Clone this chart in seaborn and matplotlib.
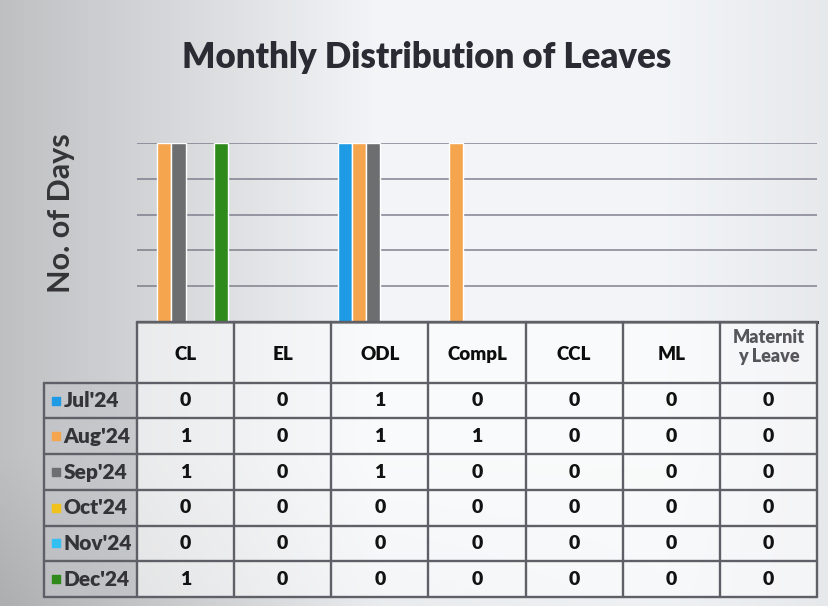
import numpy as np
import pandas as pd
import matplotlib
matplotlib.use("Agg")
import matplotlib.pyplot as plt
import seaborn as sns

# Leave types (columns) and months (series)
leave_types = ["CL", "EL", "ODL", "CompL", "CCL", "ML", "Maternity Leave"]
header_labels = ["CL", "EL", "ODL", "CompL", "CCL", "ML", "Maternit\ny Leave"]
months = ["Jul'24", "Aug'24", "Sep'24", "Oct'24", "Nov'24", "Dec'24"]

jul = [0, 0, 1, 0, 0, 0, 0]
aug = [1, 0, 1, 1, 0, 0, 0]
sep = [1, 0, 1, 0, 0, 0, 0]
oct_ = [0, 0, 0, 0, 0, 0, 0]
nov = [0, 0, 0, 0, 0, 0, 0]
dec = [1, 0, 0, 0, 0, 0, 0]

month_colors = ["#1f9be6", "#f4a54e", "#6d6e70", "#f1c21b", "#34bff2", "#2f8a1c"]

series = [jul, aug, sep, oct_, nov, dec]
df = pd.DataFrame(
    [(lt, m, v) for m, vals in zip(months, series) for lt, v in zip(leave_types, vals)],
    columns=["leave", "month", "days"],
)

sns.set_theme(style="white")
plt.rcParams["font.family"] = ["Lato", "DejaVu Sans"]

W, H = 829, 606
fig = plt.figure(figsize=(W / 100, H / 100), dpi=100)

# soft paper-like background: grey at the left edge, brighter towards the centre/right
bg = fig.add_axes([0, 0, 1, 1], zorder=-10)
xx, yy = np.meshgrid(np.linspace(0, 1, 200), np.linspace(0, 1, 150))
shade = 0.76 + 0.21 * np.clip(xx * 2.2, 0, 1) - 0.06 * np.clip((xx - 0.8) * 4, 0, 1) \
    - 0.07 * np.clip((yy - 0.75) * 4, 0, 1) * (1 - xx)
bg.imshow(np.dstack([shade * 0.98, shade * 0.99, shade]).clip(0, 1),
          aspect="auto", extent=[0, 1, 0, 1], interpolation="bicubic")
bg.set_axis_off()

def fx(px):
    return px / W

def fy(py):
    return 1 - py / H

left_px, right_px = 137, 817
top_px, base_px = 143, 322
table_bottom_px = 597

# bar chart
ax = fig.add_axes([fx(left_px), fy(base_px), fx(right_px) - fx(left_px), (base_px - top_px) / H])
sns.barplot(data=df, x="leave", y="days", hue="month", hue_order=months,
            palette=month_colors, width=0.87, saturation=1, ax=ax, legend=False)
ax.set_xlim(-0.5, len(leave_types) - 0.5)
ax.set_ylim(0, 1)
ax.set_yticks(np.arange(0, 1.01, 0.2))
ax.yaxis.grid(True, color="#6f7180", lw=1.2, alpha=0.8)
ax.set_axisbelow(True)
ax.set_facecolor("none")
for s in ["top", "right", "left"]:
    ax.spines[s].set_visible(False)
ax.spines["bottom"].set_color("#3c3c3c")
ax.spines["bottom"].set_linewidth(2.2)
ax.set_xticks([])
ax.set_yticklabels([])
ax.tick_params(left=False, bottom=False)
ax.set_xlabel("")
ax.set_ylabel("")

# y-axis title
fig.text(fx(61), fy(213), "No. of Days", rotation=90, ha="center", va="center",
         fontsize=22, fontweight="bold", color="#353538")

# chart title
fig.text(fx(427), fy(58), "Monthly Distribution of Leaves", ha="center", va="center",
         fontsize=25, fontweight="heavy", color="#2b2b33")

# data table under the bars
header_h = 1.7
n_rows = len(months)
tab = fig.add_axes([fx(left_px), fy(table_bottom_px), fx(right_px) - fx(left_px),
                    (table_bottom_px - base_px) / H])
tab.set_xlim(-0.5, len(leave_types) - 0.5)
tab.set_ylim(header_h + n_rows, 0)
tab.set_axis_off()
label_left = -0.5 - (left_px - 44) / ((right_px - left_px) / len(leave_types))
line_kw = dict(color="#5f5f68", lw=1.7, clip_on=False)

# label column shading
tab.fill_between([label_left, -0.5], header_h, header_h + n_rows, color="#c2c3c7",
                 alpha=0.6, clip_on=False, lw=0)
tab.fill_between([-0.5, len(leave_types) - 0.5], 0, header_h + n_rows, color="white",
                 alpha=0.55, lw=0)

# vertical lines
for i in range(len(leave_types) + 1):
    tab.plot([i - 0.5, i - 0.5], [0, header_h + n_rows], **line_kw)
tab.plot([label_left, label_left], [header_h, header_h + n_rows], **line_kw)
# horizontal lines
tab.plot([-0.5, len(leave_types) - 0.5], [0, 0], **line_kw)
for r in range(n_rows + 1):
    tab.plot([label_left, len(leave_types) - 0.5], [header_h + r, header_h + r], **line_kw)

for i, lab in enumerate(header_labels):
    small = "\n" in lab
    tab.text(i, header_h / 2 + (0.05 if not small else -0.15), lab, ha="center", va="center",
             fontsize=13 if small else 13.5, fontweight="heavy",
             color="#55555a" if small else "#0d0d0d", linespacing=1.15)

for r, (m, vals, c) in enumerate(zip(months, series, month_colors)):
    yc = header_h + r + 0.5
    tab.scatter([label_left + 0.12], [yc], marker="s", s=40, color=c, clip_on=False, zorder=3)
    tab.text(label_left + 0.2, yc, m, ha="left", va="center", fontsize=15,
             fontweight="heavy", color="#333338", clip_on=False)
    for i, v in enumerate(vals):
        tab.text(i, yc, str(v), ha="center", va="center", fontsize=14,
                 fontweight="heavy", color="#121212")

fig.savefig("out.png", dpi=100)
